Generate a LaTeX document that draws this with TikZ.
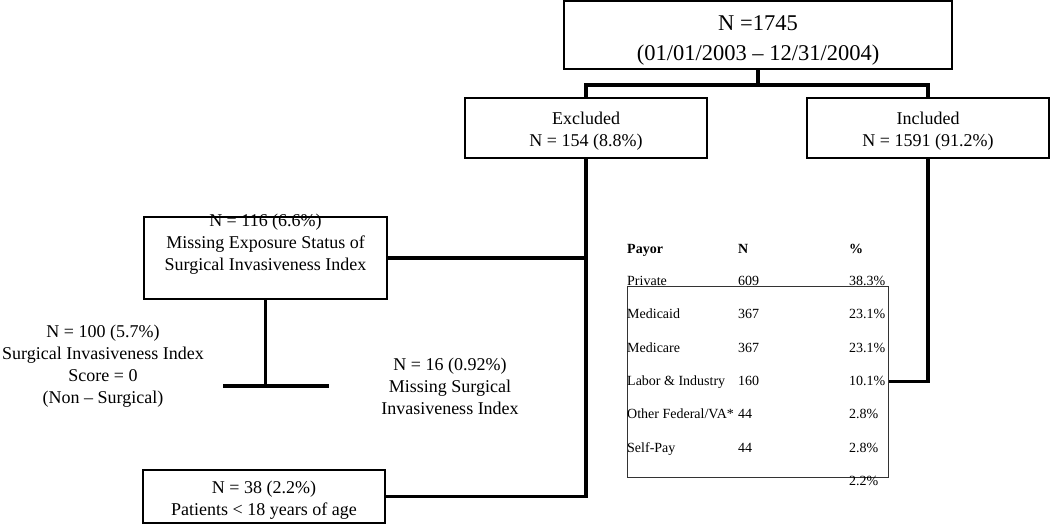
\documentclass[tikz,border=0pt]{standalone}
\usepackage{fontspec}
\setmainfont{Liberation Serif}
\tikzset{
  box/.style={draw=black, line width=1.2pt, rectangle, inner sep=0pt},
  tblbox/.style={draw=black!80, line width=1pt, rectangle, inner sep=0pt},
  conn/.style={draw=black, line width=3.5pt, line join=miter},
  txt/.style={align=center, inner sep=0pt, anchor=base, font=\fontsize{18}{22}\selectfont},
  bigtxt/.style={align=center, inner sep=0pt, anchor=base, font=\fontsize{22.5}{30}\selectfont},
  cell/.style={inner sep=0pt, anchor=base west, font=\fontsize{14}{16}\selectfont},
  hcell/.style={inner sep=0pt, anchor=base west, font=\fontsize{14}{16}\selectfont\bfseries}
}
\begin{document}
\begin{tikzpicture}[x=1pt,y=-1pt]
\useasboundingbox (0,0) rectangle (1050,525);
% boxes
\node[box, minimum width=388pt, minimum height=68pt] (top) at (758,35) {};
\node[box, minimum width=242pt, minimum height=60pt] (excl) at (586,128) {};
\node[box, minimum width=242pt, minimum height=60pt] (incl) at (928,128) {};
\node[box, minimum width=243pt, minimum height=82pt] (mes) at (265.5,258) {};
\node[box, minimum width=242pt, minimum height=53pt] (pat) at (264,496.5) {};
\node[tblbox, minimum width=261pt, minimum height=191pt] (tbl) at (757.5,381.5) {};
% texts (anchor = baseline of the last line)
\node[bigtxt] (toptxt) at (758,60) {N =1745\\(01/01/2003 – 12/31/2004)};
\node[txt] (excltxt) at (586,146) {Excluded\\N = 154 (8.8\%)};
\node[txt] (incltxt) at (928,146) {Included\\N = 1591 (91.2\%)};
\node[txt] (mestxt) at (265.5,270) {N = 116 (6.6\%)\\Missing Exposure Status of\\Surgical Invasiveness Index};
\node[txt] (n100) at (103,403) {N = 100 (5.7\%)\\Surgical Invasiveness Index\\Score = 0\\(Non – Surgical)};
\node[txt] (n16) at (450,414) {N = 16 (0.92\%)\\Missing Surgical\\Invasiveness Index};
\node[txt] (pattxt) at (264,515) {N = 38 (2.2\%)\\Patients < 18 years of age};
% table
\node[hcell] (h1) at (627,253) {Payor};
\node[hcell] (h2) at (738,253) {N};
\node[hcell] (h3) at (849,253) {\%};
\node[cell] (a1) at (627,285) {Private};
\node[cell] (b1) at (738,285) {609};
\node[cell] (c1) at (849,285) {38.3\%};
\node[cell] (a2) at (627,318.5) {Medicaid};
\node[cell] (b2) at (738,318.5) {367};
\node[cell] (c2) at (849,318.5) {23.1\%};
\node[cell] (a3) at (627,352) {Medicare};
\node[cell] (b3) at (738,352) {367};
\node[cell] (c3) at (849,352) {23.1\%};
\node[cell] (a4) at (627,385) {Labor \& Industry};
\node[cell] (b4) at (738,385) {160};
\node[cell] (c4) at (849,385) {10.1\%};
\node[cell] (a5) at (627,418.5) {Other Federal/VA*};
\node[cell] (b5) at (738,418.5) {44};
\node[cell] (c5) at (849,418.5) {2.8\%};
\node[cell] (a6) at (627,452) {Self-Pay};
\node[cell] (b6) at (738,452) {44};
\node[cell] (c6) at (849,452) {2.8\%};
\node[cell] (c7) at (849,485) {2.2\%};
% connectors
\coordinate (hub) at (758,85);
\coordinate (tl) at (223,386);
\coordinate (tr) at (329,386);
\draw[conn] (top.south) -- (hub);
\draw[conn] (excl.north) |- (hub) -| (incl.north);
\draw[conn] (excl.south) -- (excl.south |- pat.east) -- (pat.east);
\draw[conn] (mes.east) -- (mes.east -| excl.south);
\draw[conn] (incl.south) |- (tbl.east);
\draw[conn] (mes.south) -- (mes.south |- tl);
\draw[conn] (tl) -- (tr);
\end{tikzpicture}
\end{document}
